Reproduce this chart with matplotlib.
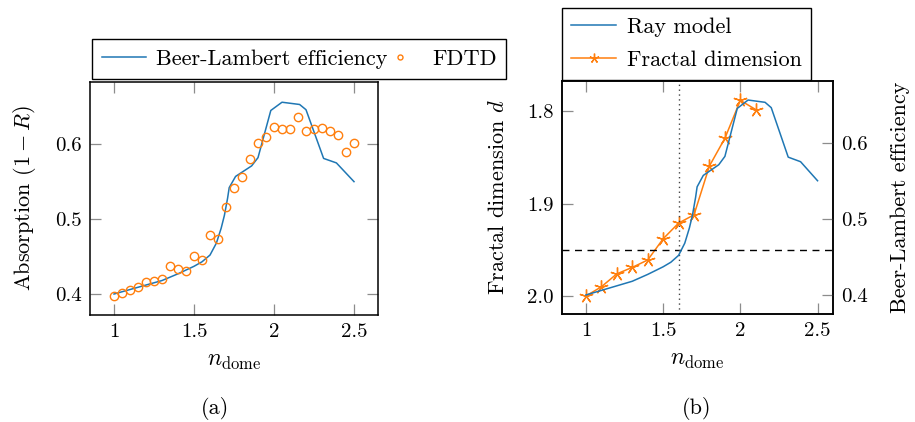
import numpy as np
import matplotlib
matplotlib.use('Agg')
import matplotlib.pyplot as plt
from matplotlib.legend_handler import HandlerLine2D

plt.rcParams['font.family'] = 'cmr10'
plt.rcParams['mathtext.fontset'] = 'cm'
plt.rcParams['axes.unicode_minus'] = False
plt.rcParams['axes.formatter.use_mathtext'] = True

# Beer-Lambert / ray model efficiency curve
ray_n = [1.0, 1.1, 1.2, 1.3, 1.4, 1.5, 1.55, 1.6, 1.64, 1.67, 1.69, 1.71, 1.72,
         1.76, 1.86, 1.90, 1.98, 2.05, 2.16, 2.20, 2.31, 2.39, 2.5]
ray_eff = [0.400, 0.406, 0.412, 0.418, 0.427, 0.437, 0.443, 0.452, 0.468, 0.488,
           0.505, 0.528, 0.542, 0.557, 0.571, 0.582, 0.645, 0.656, 0.653, 0.646,
           0.581, 0.575, 0.550]

# FDTD absorption
fdtd_n = [1.00, 1.05, 1.10, 1.15, 1.20, 1.25, 1.30, 1.35, 1.40, 1.45, 1.50,
          1.55, 1.60, 1.65, 1.70, 1.75, 1.80, 1.85, 1.90, 1.95, 2.00, 2.05,
          2.10, 2.15, 2.20, 2.25, 2.30, 2.35, 2.40, 2.45, 2.50]
fdtd_abs = [0.398, 0.402, 0.405, 0.409, 0.416, 0.418, 0.420, 0.438, 0.433, 0.431,
            0.451, 0.445, 0.479, 0.473, 0.516, 0.541, 0.556, 0.580, 0.602, 0.610,
            0.623, 0.620, 0.620, 0.636, 0.618, 0.620, 0.622, 0.617, 0.612, 0.589,
            0.601]

# fractal dimension
frac_n = [1.0, 1.1, 1.2, 1.3, 1.4, 1.5, 1.6, 1.7, 1.8, 1.9, 2.0, 2.1]
frac_d = [2.000, 1.990, 1.976, 1.969, 1.961, 1.938, 1.921, 1.912, 1.859, 1.829,
          1.788, 1.798]

d_threshold = 1.95
n_threshold = 1.6

blue = '#1f77b4'
orange = '#ff7f0e'
tick_col = '#8c8c8c'
fs = 15
lfs = 16

W, H = 915, 422
fig = plt.figure(figsize=(W / 100, H / 100), dpi=100)


def box(l, t, r, b):
    return [l / W, 1 - b / H, (r - l) / W, (b - t) / H]


def style_ticks(ax, **kw):
    ax.tick_params(direction='in', length=8, width=0.9, color=tick_col,
                   labelsize=fs, pad=6, **kw)
    for s in ax.spines.values():
        s.set_linewidth(1.1)


class MarkerAtRight(HandlerLine2D):
    # marker-only legend entry: put the marker right next to its label
    def get_xdata(self, legend, xdescent, ydescent, width, height, fontsize):
        xdata, _ = super().get_xdata(legend, xdescent, ydescent, width,
                                     height, fontsize)
        return xdata, [width - xdescent + 0.1 * fontsize]


# (a)
ax1 = fig.add_axes(box(90, 82, 378, 315))
bl_line, = ax1.plot(ray_n, ray_eff, color=blue, lw=1.1)
fdtd_pts, = ax1.plot(fdtd_n, fdtd_abs, linestyle='none', marker='o', ms=6,
                     mfc='none', mec=orange, mew=1.0)
ax1.set_xlim(0.85, 2.65)
ax1.set_ylim(0.372, 0.683)
ax1.set_xticks([1, 1.5, 2, 2.5])
ax1.set_xticklabels(['1', '1.5', '2', '2.5'])
ax1.set_yticks([0.4, 0.5, 0.6])
ax1.set_yticklabels(['0.4', '0.5', '0.6'])
style_ticks(ax1, top=True, right=True)
ax1.set_xlabel(r'$n_{\mathrm{dome}}$', fontsize=lfs + 1, labelpad=6)
ax1.set_ylabel(r'Absorption $(1-R)$', fontsize=lfs, labelpad=12.5)
fig.legend([bl_line, fdtd_pts], ['Beer-Lambert efficiency', 'FDTD'],
           loc='center', bbox_to_anchor=(299 / W, 1 - 59 / H), ncol=2,
           fontsize=lfs, frameon=True, fancybox=False, edgecolor='black',
           framealpha=1, handlelength=2.0, columnspacing=-0.45, markerscale=0.6,
           borderpad=0.45, handletextpad=0.45,
           handler_map={fdtd_pts: MarkerAtRight()})
fig.text(215 / W, 1 - 408 / H, '(a)', ha='center', va='center', fontsize=lfs)

# (b)
ax2 = fig.add_axes(box(562, 81, 833, 314))
ax3 = ax2.twinx()
frac_line, = ax2.plot(frac_n, frac_d, color=orange, lw=1.1, marker=(5, 2, 0),
                      ms=10, mew=1.0)
ray_line, = ax3.plot(ray_n, ray_eff, color=blue, lw=1.1)
ax2.axhline(d_threshold, color='black', lw=1.0, ls=(0, (5, 4)))
ax2.axvline(n_threshold, color='#444444', lw=1.0, ls=(0, (1, 2.5)))
ax2.set_xlim(0.845, 2.6)
ax2.set_ylim(2.0195, 1.767)
ax3.set_ylim(0.375, 0.681)
ax2.set_xticks([1, 1.5, 2, 2.5])
ax2.set_xticklabels(['1', '1.5', '2', '2.5'])
ax2.set_yticks([1.8, 1.9, 2.0])
ax2.set_yticklabels(['1.8', '1.9', '2.0'])
ax3.set_yticks([0.4, 0.5, 0.6])
ax3.set_yticklabels(['0.4', '0.5', '0.6'])
style_ticks(ax2, top=True)
style_ticks(ax3)
ax2.set_xlabel(r'$n_{\mathrm{dome}}$', fontsize=lfs + 1, labelpad=6)
ax2.set_ylabel(r'Fractal dimension $d$', fontsize=lfs, labelpad=14)
ax3.set_ylabel('Beer-Lambert efficiency', fontsize=lfs, labelpad=16)
fig.legend([ray_line, frac_line], ['Ray model', 'Fractal dimension'],
           loc='upper left', bbox_to_anchor=(562 / W, 1 - 8 / H), ncol=1,
           fontsize=lfs, frameon=True, fancybox=False, edgecolor='black',
           framealpha=1, handlelength=2.0, borderpad=0.42, labelspacing=0.62,
           markerscale=0.7, handletextpad=0.5, borderaxespad=0)
fig.text(697 / W, 1 - 408 / H, '(b)', ha='center', va='center', fontsize=lfs)

fig.savefig('out.png', dpi=100)
